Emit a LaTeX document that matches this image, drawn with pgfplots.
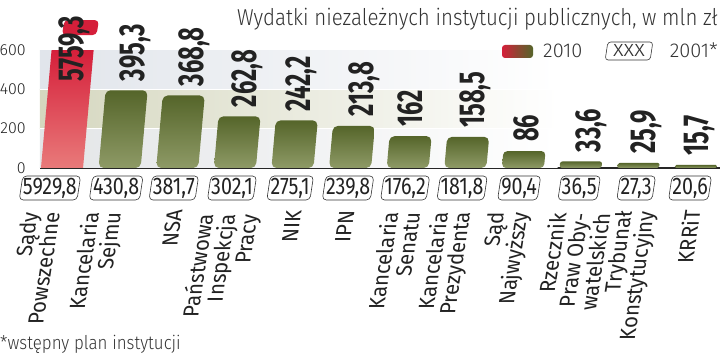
\documentclass[border=0pt]{standalone}
\usepackage{fontspec}
\setmainfont{Fira Sans}[FakeStretch=0.82]
\newfontfamily\valfont{Fira Sans}[FakeStretch=0.66]
\newfontfamily\catfont{Fira Sans}[FakeStretch=0.93]
\newfontfamily\lightfont{Fira Sans Light}[FakeStretch=0.89]
\newfontfamily\tickfont{Fira Sans Light}
\usepackage{pgfplots}
\pgfplotsset{compat=1.18}
\usepackage{pgfplotstable}
\definecolor{olivetop}{HTML}{55652A}
\definecolor{olivebot}{HTML}{8E9A66}
\definecolor{redtop}{HTML}{D51F3A}
\definecolor{redbot}{HTML}{E97A7A}
\definecolor{bandA}{HTML}{E1E5EB}
\definecolor{bandB}{HTML}{D5D7BF}
\definecolor{bandC}{HTML}{E3E5E7}
\definecolor{txt}{HTML}{222222}

% 2010 values: x = position of the label, y = value
\pgfplotstableread{
x y
1.267 395.3
2.292 368.8
3.212 262.8
4.149 242.2
5.243 213.8
6.040 162
7.170 158.5
8.060 86
9.180 33.6
10.140 25.9
11.060 15.7
}\greendata

% 2001 values
\pgfplotstableread{
x y lab
-0.21 0 5929,8
0.94 0 430,8
1.94 0 381,7
2.95 0 302,1
3.96 0 275,1
4.965 0 239,8
5.955 0 176,2
6.944 0 181,8
7.934 0 90,4
8.976 0 36,5
9.965 0 27,3
10.90 0 20,6
}\boxdata

\pgfplotsset{
  olivebar/.style={draw=none, top color=olivetop, bottom color=olivebot, rounded corners=#1},
  olivebar/.default=5pt,
}
\tikzset{catlabel/.style={inner sep=0pt, xslant=0.15, rotate=90, anchor=east, align=right, text=txt,
    font=\catfont\fontsize{22}{22}\selectfont}}

\begin{document}
\begin{tikzpicture}
\useasboundingbox (-40pt,-190pt) rectangle (680pt,168pt);
\begin{axis}[
  at={(0,0)}, anchor=south west, scale only axis,
  width=680pt, height=118pt,
  xmin=-0.382, xmax=11.42, ymin=0, ymax=600,
  clip=false,
  /pgf/number format/assume math mode=true,
  axis lines=left,
  axis line style={-},
  y axis line style={draw=none},
  x axis line style={line width=1.8pt, draw=black!85},
  tick style={draw=none},
  ytick={0,200,400,600},
  yticklabel style={font=\tickfont\fontsize{16}{16}\selectfont, text=txt, inner sep=0pt, xshift=-12pt},
  xtick=\empty,
]
% background bands
\shade[left color=bandC, right color=white] (axis cs:-0.382,0) rectangle (axis cs:8.6,200);
\shade[left color=bandB, right color=white] (axis cs:-0.382,200) rectangle (axis cs:8.6,400);
\shade[left color=bandA, right color=white] (axis cs:-0.382,400) rectangle (axis cs:8.6,600);
\draw[white, line width=1.3pt] (axis cs:-0.382,200) -- (axis cs:11.42,200);
\draw[white, line width=1.3pt] (axis cs:-0.382,400) -- (axis cs:11.42,400);

% red bar, cut at 600, with its top piece above
\addplot[draw=none, top color=redtop, bottom color=redbot]
  coordinates {(-0.365,0) (0.365,0) (0.549,600) (-0.181,600)} -- cycle;
\addplot[fill=redtop, draw=none, rounded corners=4pt]
  coordinates {(0.0,676) (0.60,676) (0.64,752) (0.04,752)} -- cycle;
\addplot[only marks, mark=none, point meta=explicit,
  nodes near coords={\pgfmathprintnumber[use comma,1000 sep={},fixed,precision=1]{\pgfplotspointmeta}},
  every node near coord/.append style={rotate=90, anchor=west, inner sep=0pt, text=txt,
    font=\valfont\bfseries\fontsize{36}{36}\selectfont}]
  coordinates {(0.208,437) [5759.3]};

% olive bars (slanted)
\addplot[olivebar] coordinates {(0.635,0) (1.365,0) (1.486,395.3) (0.756,395.3)} -- cycle;
\addplot[olivebar] coordinates {(1.635,0) (2.365,0) (2.478,368.8) (1.748,368.8)} -- cycle;
\addplot[olivebar] coordinates {(2.635,0) (3.365,0) (3.446,262.8) (2.716,262.8)} -- cycle;
\addplot[olivebar] coordinates {(3.635,0) (4.365,0) (4.439,242.2) (3.709,242.2)} -- cycle;
\addplot[olivebar] coordinates {(4.635,0) (5.365,0) (5.431,213.8) (4.701,213.8)} -- cycle;
\addplot[olivebar] coordinates {(5.635,0) (6.365,0) (6.415,162) (5.685,162)} -- cycle;
\addplot[olivebar] coordinates {(6.635,0) (7.365,0) (7.414,158.5) (6.684,158.5)} -- cycle;
\addplot[olivebar=4pt] coordinates {(7.635,0) (8.365,0) (8.391,86) (7.661,86)} -- cycle;
\addplot[olivebar=2.5pt] coordinates {(8.635,0) (9.365,0) (9.375,33.6) (8.645,33.6)} -- cycle;
\addplot[olivebar=2pt] coordinates {(9.635,0) (10.365,0) (10.373,25.9) (9.643,25.9)} -- cycle;
\addplot[olivebar=1.4pt] coordinates {(10.635,0) (11.365,0) (11.370,15.7) (10.640,15.7)} -- cycle;

% 2010 value labels
\addplot[only marks, mark=none, point meta=y,
  nodes near coords={\pgfmathprintnumber[use comma,1000 sep={},fixed,precision=1]{\pgfplotspointmeta}},
  every node near coord/.append style={rotate=90, anchor=west, inner ysep=0pt, inner xsep=9pt, text=txt,
    font=\valfont\bfseries\fontsize{36}{36}\selectfont}]
  table[x=x,y=y] {\greendata};

% 2001 values in slanted boxes
\addplot[only marks, mark=none, point meta=explicit symbolic,
  nodes near coords={\phantom{\pgfplotspointmeta}},
  every node near coord/.append style={anchor=center, yshift=-20pt, xslant=0.15, draw=black!80, line width=0.6pt,
    rounded corners=4pt, inner xsep=2pt, inner ysep=0pt, minimum height=24pt,
    font=\fontsize{24}{24}\selectfont}]
  table[x=x,y=y,meta=lab] {\boxdata};
\addplot[only marks, mark=none, point meta=explicit symbolic,
  nodes near coords,
  every node near coord/.append style={anchor=center, yshift=-20pt, inner xsep=2pt, inner ysep=0pt,
    minimum height=24pt, text=txt, font=\fontsize{24}{24}\selectfont}]
  table[x=x,y=y,meta=lab] {\boxdata};

% category names
\path (axis cs:-0.365,0) ++(0pt,-44pt) node[catlabel] {Sądy\\Powszechne};
\path (axis cs:0.729,0) ++(0pt,-44pt) node[catlabel] {Kancelaria\\Sejmu};
\path (axis cs:1.962,0) ++(0pt,-42pt) node[catlabel] {NSA};
\path (axis cs:2.899,0) ++(0pt,-46pt) node[catlabel] {Państwowa\\Inspekcja\\Pracy};
\path (axis cs:4.028,0) ++(0pt,-42pt) node[catlabel] {NIK};
\path (axis cs:4.948,0) ++(0pt,-42pt) node[catlabel] {IPN};
\path (axis cs:5.885,0) ++(0pt,-44pt) node[catlabel] {Kancelaria\\Senatu};
\path (axis cs:6.788,0) ++(0pt,-44pt) node[catlabel] {Kancelaria\\Prezydenta};
\path (axis cs:7.778,0) ++(0pt,-44pt) node[catlabel] {Sąd\\Najwyższy};
\path (axis cs:8.993,0) ++(0pt,-45pt) node[catlabel] {Rzecznik\\Praw Oby-\\watelskich};
\path (axis cs:9.983,0) ++(0pt,-43pt) node[catlabel] {Trybunał\\Konstytucyjny};
\path (axis cs:10.937,0) ++(0pt,-42pt) node[catlabel] {KRRiT};
\end{axis}

% title
\node[anchor=base east, inner sep=0pt, text=black!80, font=\lightfont\fontsize{23}{23}\selectfont]
  at (678pt,142pt) {Wydatki niezależnych instytucji publicznych, w mln zł};
% legend
\shade[left color=redtop, right color=olivetop, middle color=olivetop!55!redtop, rounded corners=3pt]
  (462pt,110pt) rectangle (493pt,123pt);
\node[anchor=base west, inner sep=0pt, text=black!80, font=\tickfont\fontsize{20}{20}\selectfont]
  at (503pt,110pt) {2010};
\node[anchor=center, xslant=0.15, draw=black!80, line width=0.6pt, rounded corners=3pt, minimum width=45pt,
  minimum height=18pt, inner sep=0pt] at (589pt,117pt) {};
\node[anchor=base, inner sep=0pt, text=black!80, font=\tickfont\fontsize{23}{23}\selectfont]
  at (589pt,111pt) {xxx};
\node[anchor=base east, inner sep=0pt, text=black!80, font=\tickfont\fontsize{20}{20}\selectfont]
  at (678pt,110pt) {2001*};
% footnote
\node[anchor=base west, inner sep=0pt, text=black!80, font=\lightfont\fontsize{19}{19}\selectfont]
  at (-40pt,-182pt) {*wstępny plan instytucji};
\end{tikzpicture}
\end{document}
